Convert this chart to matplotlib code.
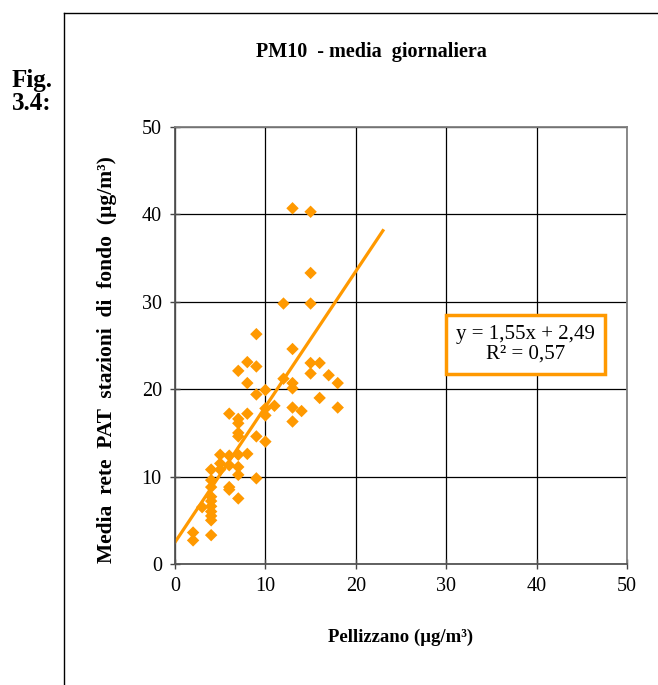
import matplotlib
matplotlib.use("Agg")
import matplotlib.pyplot as plt
from matplotlib.lines import Line2D

# Dati
pellizzano = [2, 2, 3, 4, 4, 4, 4, 4, 4, 4, 4, 4, 4, 5, 5, 5,
              6, 6, 6, 6, 6, 7, 7, 7, 7, 7, 7, 7, 7, 7,
              8, 8, 8, 8, 9, 9, 9, 9, 9, 10, 10, 10, 10, 11,
              12, 12, 13, 13, 13, 13, 13, 13, 14,
              15, 15, 15, 15, 15, 16, 16, 17, 18, 18]
media_pat = [2.7, 3.6, 6.5, 3.3, 5.0, 5.5, 6.0, 6.6, 7.2, 7.7, 8.8, 9.6, 10.8, 10.8, 11.5, 12.5,
             8.5, 8.8, 11.3, 12.4, 17.2, 7.5, 10.2, 11.1, 12.5, 14.6, 15.0, 16.1, 16.6, 22.1,
             12.6, 17.2, 20.7, 23.1, 9.8, 14.6, 19.4, 22.6, 26.3, 14.0, 17.0, 17.8, 19.9, 18.1,
             21.2, 29.8, 16.3, 17.9, 20.1, 20.7, 24.6, 40.7, 17.5,
             21.8, 23.0, 29.8, 33.3, 40.3, 19.0, 23.0, 21.6, 17.9, 20.7]

# retta di regressione (dall'equazione riportata)
pendenza = 1.55
intercetta = 2.49
x_fine = 23
equazione = "y = 1,55x + 2,49\nR² = 0,57"

arancio = "#FF9900"

plt.rcParams['font.family'] = ['Liberation Serif', 'DejaVu Serif']

fig = plt.figure(figsize=(6.58, 6.85), dpi=100)
ax = fig.add_axes([175/658, 1 - 564/685, 452/658, 437/685])

ax.scatter(pellizzano, media_pat, marker="D", s=40, color=arancio,
           edgecolors="none", zorder=3)
ax.plot([0, x_fine], [intercetta, intercetta + pendenza * x_fine],
        color=arancio, lw=2.3, zorder=2)

ax.set_xlim(0, 50)
ax.set_ylim(0, 50)
ax.set_xticks(range(0, 51, 10))
ax.set_yticks(range(0, 51, 10))
ax.grid(True, color="black", lw=0.9)
ax.set_axisbelow(True)
for s in ax.spines.values():
    s.set_color("#808080")
    s.set_linewidth(1.3)
ax.spines["left"].set_color("#555555")
ax.spines["bottom"].set_color("#555555")
ax.tick_params(direction="inout", length=7, width=1, color="#444444",
               labelsize=14.5, pad=6)

ax.text(38.8, 25.1, equazione, ha="center", va="center", fontsize=15,
        linespacing=1.05,
        bbox=dict(boxstyle="square,pad=0.48", fc="white", ec=arancio, lw=2.5),
        zorder=5)

ax.set_xlabel("Pellizzano (µg/m³)", fontsize=13.5, fontweight="bold")
ax.xaxis.set_label_coords(0.5, -0.167)
ax.xaxis.label.set_va("center")
ax.set_ylabel("Media  rete  PAT  stazioni  di  fondo  (µg/m³)", fontsize=15.5,
              fontweight="bold")
ax.yaxis.set_label_coords(-0.150, 0.468)
ax.yaxis.label.set_va("center")

fig.text(371/658, 1 - 52/685, "PM10  - media  giornaliera", ha="center",
         va="center", fontsize=14.5, fontweight="bold")
fig.text(12/658, 1 - 92/685, "Fig.\n3.4:", ha="left", va="center",
         fontsize=18, fontweight="bold", linespacing=1.05)

# cornice esterna
fig.add_artist(Line2D([64/658, 64/658], [0, 1 - 13/685], color="black", lw=1))
fig.add_artist(Line2D([64/658, 1], [1 - 13/685, 1 - 13/685], color="black", lw=1))

fig.savefig("out.png", dpi=100)
